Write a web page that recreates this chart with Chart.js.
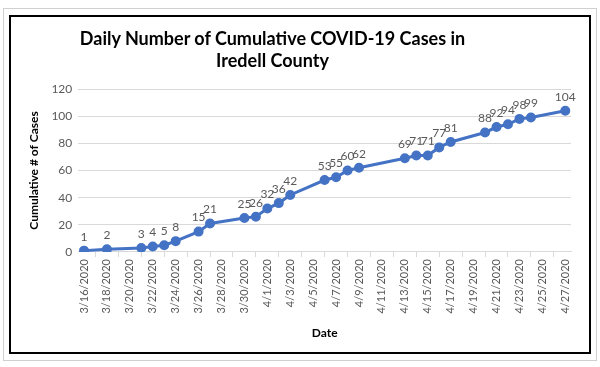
<!DOCTYPE html>
<html>
<head>
<meta charset="utf-8">
<script src="https://cdn.jsdelivr.net/npm/chart.js@4.4.1/dist/chart.umd.min.js"></script>
<style>
  body { margin: 0; background: #fff; width: 600px; height: 367px; position: relative; overflow: hidden; }
  #outer { position: absolute; left: 3px; top: 8px; width: 592px; height: 351px; border: 1px solid #d0d0d0; }
  #frame { position: absolute; left: 9px; top: 15px; width: 578px; height: 335px; border: 2px solid #000; }
  #title { position: absolute; left: 0; top: 27px; width: 545px; text-align: center;
           font: bold 18px Lato, sans-serif; line-height: 22px; color: #000; }
  #wrap { position: absolute; left: 11px; top: 17px; width: 578px; height: 335px; }
</style>
</head>
<body>
<div id="outer"></div>
<div id="frame"></div>
<div id="wrap"><canvas id="myChart"></canvas></div>
<div id="title">Daily Number of Cumulative COVID-19 Cases in<br>Iredell County</div>
<script>
// every day on the axis
const dates = ['3/16/2020', '3/17/2020', '3/18/2020', '3/19/2020', '3/20/2020', '3/21/2020', '3/22/2020', '3/23/2020',
  '3/24/2020', '3/25/2020', '3/26/2020', '3/27/2020', '3/28/2020', '3/29/2020', '3/30/2020', '3/31/2020',
  '4/1/2020', '4/2/2020', '4/3/2020', '4/4/2020', '4/5/2020', '4/6/2020', '4/7/2020', '4/8/2020',
  '4/9/2020', '4/10/2020', '4/11/2020', '4/12/2020', '4/13/2020', '4/14/2020', '4/15/2020', '4/16/2020',
  '4/17/2020', '4/18/2020', '4/19/2020', '4/20/2020', '4/21/2020', '4/22/2020', '4/23/2020', '4/24/2020',
  '4/25/2020', '4/26/2020', '4/27/2020'];

// days with a reported count
const caseDates = ['3/16/2020', '3/18/2020', '3/21/2020', '3/22/2020', '3/23/2020', '3/24/2020', '3/26/2020',
  '3/27/2020', '3/30/2020', '3/31/2020', '4/1/2020', '4/2/2020', '4/3/2020', '4/6/2020', '4/7/2020',
  '4/8/2020', '4/9/2020', '4/13/2020', '4/14/2020', '4/15/2020', '4/16/2020', '4/17/2020', '4/20/2020',
  '4/21/2020', '4/22/2020', '4/23/2020', '4/24/2020', '4/27/2020'];
const cases = [1, 2, 3, 4, 5, 8, 15, 21, 25, 26, 32, 36, 42, 53, 55, 60, 62, 69, 71, 71, 77, 81, 88, 92, 94, 98, 99, 104];

const yTicks = [0, 20, 40, 60, 80, 100, 120];

// draws the value above each point
const valueLabels = {
  id: 'valueLabels',
  afterDatasetsDraw(chart) {
    const c = chart.ctx;
    const meta = chart.getDatasetMeta(0);
    c.save();
    c.font = '12px Lato, sans-serif';
    c.fillStyle = '#595959';
    c.textAlign = 'center';
    c.textBaseline = 'bottom';
    meta.data.forEach(function (pt, i) {
      c.fillText(cases[i], pt.x, pt.y - 8);
    });
    c.restore();
  }
};

const ctx = document.getElementById('myChart');
new Chart(ctx, {
  type: 'line',
  data: {
    labels: dates,
    datasets: [{
      label: 'Cases',
      data: caseDates.map(function (d, i) { return { x: d, y: cases[i] }; }),
      borderColor: '#4472c4',
      backgroundColor: '#4472c4',
      borderWidth: 3,
      pointRadius: 3.5,
      pointHoverRadius: 3.5,
      tension: 0
    }]
  },
  plugins: [valueLabels],
  options: {
    responsive: true,
    maintainAspectRatio: false,
    animation: false,
    layout: { padding: { top: 72, right: 18, bottom: 8, left: 12 } },
    plugins: { legend: { display: false }, tooltip: { enabled: false } },
    scales: {
      x: {
        type: 'category',
        offset: true,
        grid: { offset: true, drawOnChartArea: false, drawTicks: true, tickLength: 5, color: '#d9d9d9' },
        border: { color: '#d9d9d9', width: 1 },
        ticks: {
          autoSkip: false,
          minRotation: 90,
          maxRotation: 90,
          padding: 2,
          color: '#595959',
          font: { family: 'Lato, sans-serif', size: 11 },
          callback: function (v, i) { return i % 2 == 0 ? this.getLabelForValue(v) : null; }
        },
        title: { display: true, text: 'Date', color: '#000', font: { family: 'Lato, sans-serif', size: 12, weight: 'bold' }, padding: { top: 10 } }
      },
      y: {
        min: 0,
        max: 120,
        afterBuildTicks: function (axis) { axis.ticks = yTicks.map(function (v) { return { value: v }; }); },
        grid: { color: '#d9d9d9', drawTicks: false },
        border: { display: false },
        ticks: { padding: 6, color: '#595959', font: { family: 'Lato, sans-serif', size: 12 } },
        title: { display: true, text: 'Cumulative # of Cases', color: '#000', font: { family: 'Lato, sans-serif', size: 12, weight: 'bold' }, padding: { bottom: 4 } }
      }
    }
  }
});
</script>
</body>
</html>
